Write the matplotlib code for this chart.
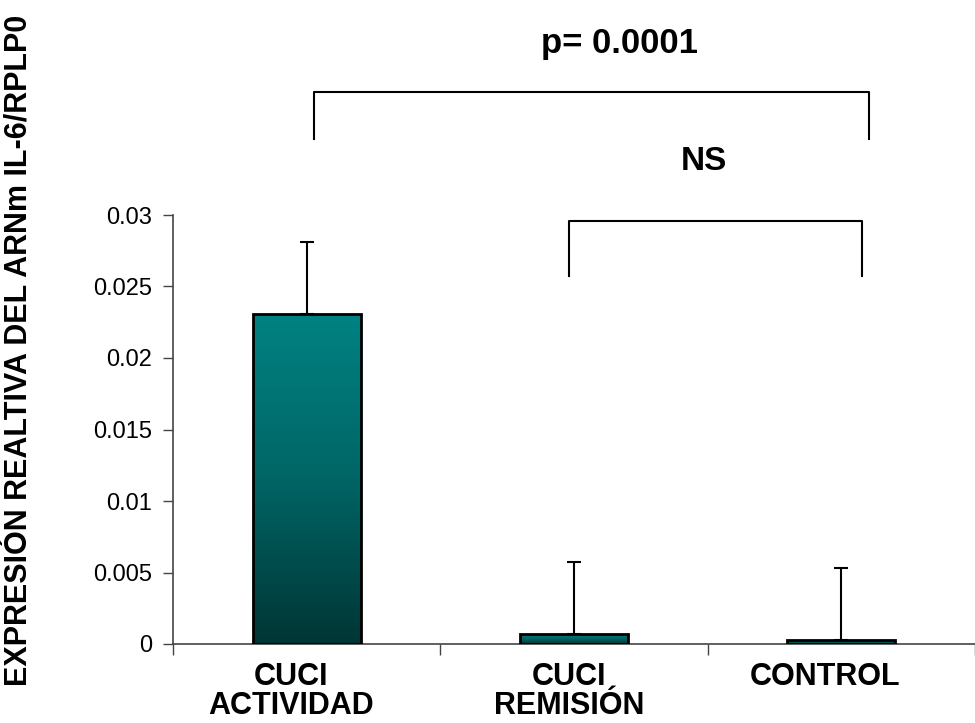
import matplotlib
matplotlib.use("Agg")
import matplotlib.pyplot as plt
import numpy as np
from matplotlib.colors import LinearSegmentedColormap
from matplotlib.transforms import offset_copy

plt.rcParams['font.family'] = ['Liberation Sans', 'DejaVu Sans']

categories = ["CUCI\nACTIVIDAD", "CUCI\nREMISIÓN", "CONTROL"]
values = [0.0231, 0.0007, 0.0003]
errors = [0.0050, 0.0050, 0.0050]
yticks = [0, 0.005, 0.01, 0.015, 0.02, 0.025, 0.03]
ytick_labels = ["0", "0.005", "0.01", "0.015", "0.02", "0.025", "0.03"]
ylabel = "EXPRESIÓN REALTIVA DEL ARNm IL-6/RPLP0"
p_text = "p= 0.0001"
ns_text = "NS"

# layout: horizontal shift of category labels (points)
label_shift_pt = [-11, -3.5, -11.5]

fig = plt.figure(figsize=(9.75, 7.23), dpi=100)
ax = fig.add_axes([173/975, 1-644/723, 802/975, 429/723])
ax.set_xlim(-0.5, 2.47)
ax.set_ylim(0, 0.03)

x = np.arange(len(categories))
bars = ax.bar(x, values, width=0.404, facecolor='none', edgecolor='black',
              linewidth=2, zorder=3)

cmap = LinearSegmentedColormap.from_list('teal', ['#003535', '#006565', '#008282'])
grad = np.linspace(0, 1, 256).reshape(-1, 1)
for b in bars:
    x0, y0 = b.get_x(), b.get_y()
    w, h = b.get_width(), b.get_height()
    im = ax.imshow(grad, cmap=cmap, aspect='auto', origin='lower',
                   extent=[x0, x0 + w, y0, y0 + h], zorder=2)
    im.set_clip_path(b)

ax.errorbar(x, values, yerr=[np.zeros(len(values)), errors], fmt='none',
            ecolor='black', elinewidth=1.5, capsize=5, capthick=1.5, zorder=4)

for s in ['top', 'right']:
    ax.spines[s].set_visible(False)
for s in ['left', 'bottom']:
    ax.spines[s].set_color('#444444')
    ax.spines[s].set_linewidth(1.2)

ax.set_yticks(yticks)
ax.set_yticklabels(ytick_labels, fontsize=17)
ax.tick_params(axis='y', direction='out', length=7, width=1, color='#444444', pad=8)
ax.set_xticks([-0.5, 0.5, 1.5, 2.5])
ax.set_xticklabels([])
ax.tick_params(axis='x', direction='out', length=8, width=1, color='#444444')

for xi, lab, sh in zip(x, categories, label_shift_pt):
    tr = offset_copy(ax.transData, fig=fig, x=sh, y=0, units='points')
    ax.text(xi, -0.00125, lab, ha='center', va='top', fontsize=22,
            fontweight='bold', linespacing=0.95, clip_on=False, transform=tr)

fig.text(20/975, 1-350/723, ylabel, rotation=90, ha='center', va='center',
         fontsize=22, fontweight='bold')

# significance brackets
ax.plot([0.0285, 0.0285, 2.104, 2.104], [0.0353, 0.0386, 0.0386, 0.0353],
        color='black', lw=1.5, clip_on=False)
ax.plot([0.980, 0.980, 2.077, 2.077], [0.02571, 0.02958, 0.02958, 0.02571],
        color='black', lw=1.5, clip_on=False)
ax.text(1.170, 0.04197, p_text, ha='center', va='center', fontsize=25,
        fontweight='bold', clip_on=False)
ax.text(1.487, 0.03377, ns_text, ha='center', va='center', fontsize=24,
        fontweight='bold', clip_on=False)

fig.savefig("out.png", dpi=100)
